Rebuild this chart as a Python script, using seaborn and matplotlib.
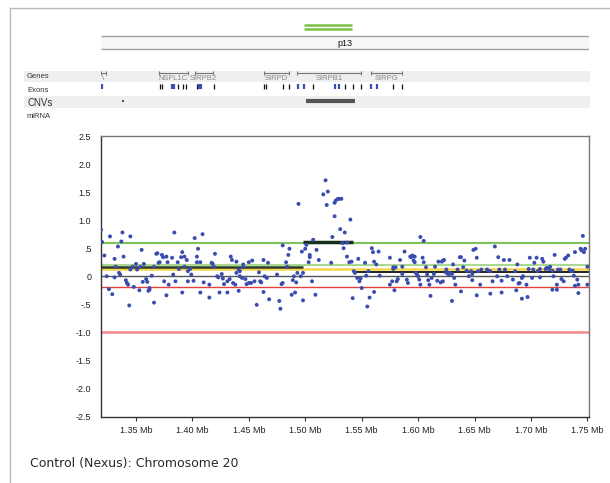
import matplotlib
matplotlib.use("Agg")
import matplotlib.pyplot as plt
import seaborn as sns
import pandas as pd

# probe positions (Mb) and log2 ratios
pos_mb = [
    1.319, 1.320, 1.322, 1.327, 1.324, 1.331, 1.332, 1.334, 1.335, 1.336, 1.337, 1.338, 1.339, 1.331,
    1.341, 1.342, 1.343, 1.345, 1.345, 1.347, 1.350, 1.351, 1.354, 1.355, 1.356, 1.357, 1.359, 1.360,
    1.362, 1.364, 1.366, 1.368, 1.369, 1.370, 1.371, 1.373, 1.374, 1.375, 1.377, 1.378, 1.379, 1.382,
    1.383, 1.384, 1.385, 1.387, 1.388, 1.390, 1.391, 1.393, 1.393, 1.395, 1.396, 1.396, 1.398, 1.399,
    1.401, 1.402, 1.404, 1.404, 1.405, 1.407, 1.409, 1.410, 1.415, 1.417, 1.418, 1.419, 1.420, 1.422,
    1.423, 1.426, 1.427, 1.428, 1.431, 1.433, 1.434, 1.435, 1.436, 1.438, 1.439, 1.439, 1.441, 1.442,
    1.442, 1.444, 1.445, 1.445, 1.447, 1.448, 1.450, 1.450, 1.452, 1.453, 1.455, 1.459, 1.460, 1.461,
    1.463, 1.464, 1.466, 1.467, 1.475, 1.479, 1.480, 1.480, 1.483, 1.484, 1.485, 1.486, 1.489, 1.490,
    1.492, 1.493, 1.494, 1.496, 1.497, 1.498, 1.500, 1.501, 1.503, 1.504, 1.504, 1.506, 1.507, 1.510,
    1.512,
    1.516, 1.518, 1.519, 1.520, 1.523, 1.524, 1.526, 1.526, 1.527, 1.529, 1.530, 1.532, 1.531, 1.534,
    1.535, 1.533, 1.537, 1.537, 1.539, 1.540, 1.541, 1.543, 1.544, 1.546, 1.547, 1.548, 1.549, 1.550,
    1.553, 1.554, 1.556, 1.559, 1.560, 1.561, 1.563, 1.565, 1.566, 1.575, 1.575, 1.577, 1.578, 1.578,
    1.580, 1.581, 1.582, 1.584, 1.586, 1.586, 1.588, 1.590, 1.591, 1.593, 1.594, 1.595, 1.596, 1.597,
    1.597, 1.598, 1.599, 1.600, 1.601, 1.602, 1.602, 1.604, 1.605, 1.605, 1.607, 1.608, 1.609, 1.610,
    1.612, 1.614, 1.615, 1.617, 1.618, 1.620, 1.621, 1.622, 1.622, 1.623, 1.625, 1.625, 1.627, 1.628,
    1.630, 1.631, 1.632, 1.633, 1.635, 1.637, 1.638, 1.640, 1.641, 1.643, 1.645, 1.647, 1.648, 1.648,
    1.649, 1.651, 1.652, 1.653, 1.655, 1.656, 1.661, 1.662, 1.664, 1.666, 1.668, 1.670, 1.671, 1.672,
    1.674, 1.676, 1.677, 1.679, 1.681, 1.684, 1.686, 1.688, 1.689, 1.690, 1.692, 1.693, 1.696, 1.698,
    1.699, 1.701, 1.702, 1.703, 1.705, 1.706, 1.708, 1.708, 1.710, 1.711, 1.713, 1.714, 1.716, 1.717,
    1.719, 1.720, 1.721, 1.723, 1.724, 1.726, 1.727, 1.729, 1.730, 1.731, 1.733, 1.734, 1.736, 1.737,
    1.738, 1.739, 1.741, 1.742, 1.744, 1.745, 1.746, 1.747, 1.748, 1.750, 1.750,
    1.326, 1.329, 1.344, 1.348, 1.353, 1.361, 1.362, 1.366, 1.377, 1.391, 1.407, 1.415, 1.424, 1.431,
    1.441, 1.457, 1.463, 1.468, 1.477, 1.478, 1.488, 1.491, 1.498, 1.509, 1.542, 1.555, 1.557, 1.561,
    1.579, 1.611, 1.630, 1.638, 1.652, 1.664, 1.674, 1.687, 1.692, 1.697, 1.719, 1.723, 1.742, 1.739,
]
log2_ratio = [
    0.83, 0.61, 0.37, 0.71, 0.00, 0.31, 0.17, 0.53, 0.06, 0.03, 0.62, 0.78, 0.35, -0.02,
    -0.07, -0.12, -0.15, 0.71, 0.12, 0.17, 0.22, 0.12, 0.17, 0.47, -0.10, 0.22, -0.05, -0.10,
    -0.21, 0.01, 0.17, 0.40, 0.41, 0.24, 0.25, 0.38, 0.34, -0.09, 0.35, 0.25, -0.15, 0.33,
    0.03, 0.78, -0.09, 0.25, 0.13, 0.34, 0.43, 0.17, 0.35, 0.29, 0.09, -0.09, 0.13, 0.03,
    -0.08, 0.68, 0.35, 0.25, 0.49, 0.25, 0.75, -0.11, -0.15, 0.24, 0.22, 0.17, 0.40, 0.00,
    -0.02, 0.04, -0.04, -0.14, -0.09, -0.05, 0.35, 0.29, -0.12, -0.15, 0.26, 0.06, 0.12, 0.09,
    0.00, -0.03, 0.21, 0.16, -0.05, -0.14, -0.12, 0.25, -0.12, 0.28, -0.09, 0.07, -0.09, -0.11,
    0.29, 0.00, -0.03, 0.24, 0.03, -0.14, -0.12, 0.55, 0.25, 0.17, 0.38, 0.49, -0.07, 0.00,
    -0.11, 0.06, 1.29, 0.00, 0.44, 0.06, 0.49, 0.56, 0.25, 0.34, 0.38, -0.09, 0.65, 0.47,
    0.29,
    1.46, 1.71, 1.27, 1.51, 0.24, 0.70, 1.31, 1.07, 1.35, 1.38, 1.38, 1.38, 0.84, 0.50,
    0.78, 0.59, 0.60, 0.35, 0.25, 1.01, 0.26, 0.09, 0.06, -0.03, 0.31, -0.09, -0.04, -0.21,
    0.24, 0.01, 0.09, 0.50, 0.43, 0.26, 0.21, 0.44, 0.01, 0.33, -0.15, -0.09, 0.13, 0.16,
    0.16, -0.09, -0.05, 0.29, 0.04, 0.17, 0.44, -0.06, -0.12, 0.35, 0.34, 0.37, 0.28, 0.25,
    0.35, 0.06, 0.03, 0.00, -0.06, -0.15, 0.70, 0.33, 0.63, 0.25, 0.16, 0.03, -0.07, -0.15,
    -0.03, 0.04, 0.17, -0.08, 0.26, -0.11, 0.26, -0.09, 0.28, 0.29, 0.12, 0.06, 0.03, 0.06,
    0.04, 0.21, -0.03, -0.15, 0.12, 0.34, 0.34, 0.16, 0.28, 0.10, 0.00, 0.09, 0.04, -0.07,
    0.47, 0.49, 0.33, 0.09, -0.15, 0.12, 0.12, 0.10, 0.09, -0.09, 0.53, 0.00, 0.34, 0.12,
    -0.08, 0.29, 0.12, 0.00, 0.29, -0.06, 0.09, 0.21, -0.13, -0.12, -0.03, 0.00, -0.15, 0.13,
    0.33, -0.03, 0.12, 0.24, 0.33, 0.09, -0.02, 0.13, 0.31, 0.26, 0.13, 0.15, 0.13, 0.17,
    0.10, 0.00, 0.38, -0.15, 0.12, 0.12, -0.05, -0.09, 0.31, 0.33, 0.37, 0.12, 0.09, 0.10,
    0.01, 0.43, -0.06, -0.15, 0.49, 0.46, 0.72, 0.43, 0.49, 0.17, -0.15,
    -0.23, -0.32, -0.52, -0.19, -0.25, -0.26, -0.24, -0.47, -0.34, -0.29, -0.29, -0.38, -0.29, -0.29,
    -0.26, -0.51, -0.28, -0.41, -0.44, -0.58, -0.33, -0.29, -0.43, -0.33, -0.39, -0.54, -0.38, -0.28,
    -0.25, -0.35, -0.44, -0.27, -0.34, -0.31, -0.29, -0.25, -0.40, -0.37, -0.24, -0.24, -0.30, -0.17,
]

# segmentation result
seg_start = [1.319, 1.498, 1.542]
seg_end = [1.498, 1.542, 1.751]
seg_value = [0.16, 0.61, 0.075]

# threshold lines
thr_value = [0.6, 0.2, 0.13, 0.0, -0.2, -1.0]
thr_color = ["#7cc35c", "#a9d98f", "#f4d54a", "#555555", "#e2433f", "#f4898a"]
thr_width = [1.5, 1.5, 1.8, 1.0, 1.0, 1.8]

# genes track
gene_names = ["\\", "NSFL1C", "SIRPB2", "SIRPD", "SIRPB1", "SIRPG"]
gene_start = [1.319, 1.370, 1.402, 1.463, 1.493, 1.558]
gene_end = [1.323, 1.396, 1.418, 1.486, 1.549, 1.586]

exon_pos = [1.320, 1.371, 1.373, 1.382, 1.384, 1.387, 1.392, 1.394, 1.404, 1.406, 1.408, 1.419,
            1.463, 1.465, 1.480, 1.486, 1.494, 1.499, 1.507, 1.526, 1.530, 1.535, 1.542, 1.549,
            1.558, 1.564, 1.578, 1.586]
exon_blue = [1, 0, 0, 1, 1, 0, 0, 0, 0, 1, 1, 0,
             0, 0, 0, 0, 1, 1, 0, 1, 1, 0, 0, 0,
             1, 1, 0, 0]

cnv_start = [1.338, 1.501]
cnv_end = [1.339, 1.544]
band_start, band_end = 1.499, 1.541

xlim = (1.319, 1.751)
x_ticks = [1.35, 1.40, 1.45, 1.50, 1.55, 1.60, 1.65, 1.70, 1.75]
x_labels = ["1.35 Mb", "1.40 Mb", "1.45 Mb", "1.50 Mb", "1.55 Mb", "1.60 Mb",
            "1.65 Mb", "1.70 Mb", "1.75 Mb"]
y_ticks = [2.5, 2.0, 1.5, 1.0, 0.5, 0.0, -0.5, -1.0, -1.5, -2.0, -2.5]
y_labels = ["2.5", "2.0", "1.5", "1.0", ".5", "0", "-.5", "-1.0", "-1.5", "-2.0", "-2.5"]

sns.set_style("white")
plt.rcParams['font.family'] = ['Liberation Sans', 'DejaVu Sans']

fig = plt.figure(figsize=(6.1, 4.83), dpi=100)

# background layer in pixel coordinates
bg = fig.add_axes([0, 0, 1, 1])
bg.set_xlim(0, 610)
bg.set_ylim(483, 0)
bg.axis("off")
bg.plot([10, 610], [8, 8], color="#b8b8b8", lw=1)
bg.plot([10, 10], [8, 483], color="#b8b8b8", lw=1)
bg.add_patch(plt.Rectangle((24, 71), 566, 11, color="#efefef", lw=0))
bg.add_patch(plt.Rectangle((24, 96), 566, 12, color="#efefef", lw=0))
bg.text(27, 77, "Genes", fontsize=5.5, color="#333333", va="center")
bg.text(27, 90.5, "Exons", fontsize=5.5, color="#333333", va="center")
bg.text(27, 102.5, "CNVs", fontsize=7, color="#333333", va="center")
bg.text(27, 116, "miRNA", fontsize=5.5, color="#333333", va="center")
bg.text(30, 464, "Control (Nexus): Chromosome 20", fontsize=9, color="#2a2a2a",
        va="center", family="DejaVu Sans")

left, right = 101 / 610, 588.5 / 610

# top tracks, x in Mb, y in pixels
top = fig.add_axes([left, 1 - 130 / 483, right - left, 130 / 483])
top.set_xlim(*xlim)
top.set_ylim(130, 0)
top.axis("off")
top.patch.set_alpha(0)
top.hlines([24.7, 29.3], band_start, band_end, color="#78c143", lw=1.8)
top.fill_between(xlim, 35.7, 49.3, color="#f7f7f7", lw=0)
top.hlines([35.7, 49.3], xlim[0], xlim[1], color="#a0a0a0", lw=1)
top.text(sum(xlim) / 2, 43, "p13", fontsize=6.5, ha="center", va="center", color="#111111")
for name, s, e in zip(gene_names, gene_start, gene_end):
    top.hlines(72.5, s, e, color="#777777", lw=0.8)
    top.vlines([s, e], 70.5, 74.5, color="#777777", lw=0.8)
    top.text((s + e) / 2, 78.5, name, fontsize=5.5, ha="center", va="center", color="#888888")
for p, b in zip(exon_pos, exon_blue):
    top.vlines(p, 84, 89, color="#3c4fb5" if b else "#111111", lw=1.6 if b else 0.9)
top.hlines([100.5, 100.5], cnv_start, cnv_end, color="#555555", lw=[1.5, 3])

# main plot
ax = fig.add_axes([left, 1 - 416.5 / 483, right - left, 280.5 / 483])
for v, c, w in zip(thr_value, thr_color, thr_width):
    ax.axhline(v, color=c, lw=w, zorder=1)
ax.hlines(seg_value, seg_start, seg_end, color=["#2f3a22", "#14301a", "#111111"],
          lw=[1.8, 2.5, 1.3], zorder=2)
df = pd.DataFrame({"pos": pos_mb, "ratio": log2_ratio})
sns.scatterplot(data=df, x="pos", y="ratio", ax=ax, color="#3b4caf", s=8,
                edgecolor="none", zorder=3)
ax.set_xlim(*xlim)
ax.set_ylim(-2.5, 2.5)
ax.set_xticks(x_ticks)
ax.set_xticklabels(x_labels)
ax.set_yticks(y_ticks)
ax.set_yticklabels(y_labels)
ax.set(xlabel=None, ylabel=None)
ax.tick_params(axis="x", length=3, width=0.8, color="#333333", pad=4, labelsize=6.5,
               bottom=True, labelcolor="#222222")
ax.tick_params(axis="y", length=0, pad=7, labelsize=6.5, labelcolor="#222222")
for side in ["left", "bottom"]:
    ax.spines[side].set_color("#333333")
    ax.spines[side].set_linewidth(1)
for side in ["top", "right"]:
    ax.spines[side].set_color("#777777")
    ax.spines[side].set_linewidth(1)

fig.savefig("out.png", dpi=100)
